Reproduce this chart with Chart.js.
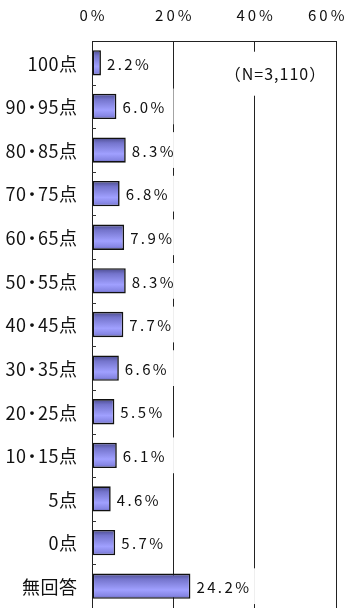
<!DOCTYPE html>
<html lang="ja">
<head>
<meta charset="utf-8">
<script src="https://cdn.jsdelivr.net/npm/chart.js@4.4.1/dist/chart.umd.min.js"></script>
<style>
  html, body { margin: 0; padding: 0; background: #fff; }
  #chart { display: block; }
</style>
</head>
<body>
<canvas id="chart" width="354" height="608"></canvas>
<script>
"use strict";

const CATEGORIES = [
  "100点", "90・95点", "80・85点", "70・75点", "60・65点", "50・55点", "40・45点",
  "30・35点", "20・25点", "10・15点", "5点", "0点", "無回答",
];
const VALUES = [2.2, 6.0, 8.3, 6.8, 7.9, 8.3, 7.7, 6.6, 5.5, 6.1, 4.6, 5.7, 24.2];
const X_TICKS = [0, 20, 40, 60];
const NOTE = "（N=3,110）";

const FONT = '"Noto Sans CJK JP", "Noto Sans", sans-serif';
const INK = "#111";
const BAR_PCT = 0.58;

// 棒の縦グラデーション（上端が暗く、下寄りが明るい）
function barFill(c) {
  const chart = c.chart;
  const y = chart.scales && chart.scales.y;
  if (!chart.chartArea || !y) return "#9999ff";
  const cy = y.getPixelForValue(c.dataIndex);
  const half = (y.getPixelForValue(1) - y.getPixelForValue(0)) * BAR_PCT / 2;
  const g = chart.ctx.createLinearGradient(0, cy - half, 0, cy + half);
  g.addColorStop(0, "#4a4a8c");
  g.addColorStop(0.22, "#7474cc");
  g.addColorStop(0.65, "#a0a0ff");
  g.addColorStop(0.88, "#8686e4");
  g.addColorStop(1, "#6060b0");
  return g;
}

function textWidth(ctx, text, ls) {
  ctx.letterSpacing = ls + "px";
  const w = ctx.measureText(text).width;
  ctx.letterSpacing = "0px";
  return w;
}

function spacedText(ctx, text, x, y, align, ls) {
  ctx.letterSpacing = ls + "px";
  ctx.textAlign = align;
  // letterSpacing は末尾にも付くので右寄せ・中央寄せで補正
  const dx = align === "right" ? ls : align === "center" ? ls / 2 : 0;
  ctx.fillText(text, x + dx, y);
  ctx.letterSpacing = "0px";
}

// 項目ラベル：中黒だけ詰めて右寄せで一文字ずつ描く
function categoryText(ctx, text, right, y, ls) {
  const chars = [...text];
  const adv = chars.map((ch) => ctx.measureText(ch).width - (ch === "・" ? 7 : 0) + ls);
  const total = adv.reduce((a, b) => a + b, 0) - ls;
  let px = right - total;
  ctx.textAlign = "left";
  chars.forEach((ch, i) => {
    ctx.fillText(ch, ch === "・" ? px - 3.5 : px, y);
    px += adv[i];
  });
}

const textPlugin = {
  id: "texts",
  afterDraw(chart) {
    const { ctx, chartArea, scales: { x, y } } = chart;
    const step = y.getPixelForValue(1) - y.getPixelForValue(0);
    ctx.save();
    ctx.fillStyle = INK;
    ctx.textBaseline = "middle";

    // 上部の目盛ラベル
    ctx.font = "15px " + FONT;
    X_TICKS.forEach((v) => {
      const label = v + "%";
      const w = textWidth(ctx, label, 3);
      let cx = x.getPixelForValue(v);
      if (cx + w / 2 > chart.width - 8) cx = chart.width - 8 - w / 2;
      spacedText(ctx, label, cx, 15, "center", 3);
    });

    // 項目ラベル
    ctx.font = "18px " + FONT;
    CATEGORIES.forEach((cat, i) => {
      categoryText(ctx, cat, chartArea.left - 15, y.getPixelForValue(i) + 1, 0.5);
    });

    // 軸の内側の区切り目盛
    ctx.strokeStyle = "#333";
    ctx.lineWidth = 1;
    for (let k = 1; k < CATEGORIES.length; k++) {
      const py = Math.round(y.getPixelForValue(k - 0.5)) + 0.5;
      ctx.beginPath();
      ctx.moveTo(chartArea.left, py);
      ctx.lineTo(chartArea.left + 4, py);
      ctx.stroke();
    }

    // 値ラベル（白地の枠つき）
    ctx.font = "15px " + FONT;
    const meta = chart.getDatasetMeta(0);
    meta.data.forEach((bar, i) => {
      const label = VALUES[i].toFixed(1) + "%";
      const w = textWidth(ctx, label, 2.4);
      ctx.fillStyle = "rgba(255,255,255,0.93)";
      ctx.fillRect(bar.x + 2, bar.y - step * 0.41, w + 11, step * 0.82);
      ctx.fillStyle = INK;
      spacedText(ctx, label, bar.x + 6, bar.y + 1, "left", 2.4);
    });

    // 回答者数
    ctx.font = "16px " + FONT;
    const nw = textWidth(ctx, NOTE, 1);
    const nx = x.getPixelForValue(45);
    const ny = y.getPixelForValue(0.25);
    ctx.fillStyle = "#fff";
    ctx.fillRect(nx - nw / 2 - 4, ny - 22, nw + 8, 44);
    ctx.fillStyle = INK;
    spacedText(ctx, NOTE, nx, ny, "center", 1);

    ctx.restore();
  },
};

new Chart(document.getElementById("chart"), {
  type: "bar",
  data: {
    labels: CATEGORIES,
    datasets: [{
      data: VALUES,
      backgroundColor: barFill,
      borderColor: "#111",
      borderWidth: 1.6,
      borderSkipped: false,
      barPercentage: BAR_PCT,
      categoryPercentage: 1,
    }],
  },
  options: {
    indexAxis: "y",
    responsive: false,
    animation: false,
    devicePixelRatio: 1,
    layout: { padding: { left: 0, right: 18, top: 0, bottom: 0 } },
    plugins: { legend: { display: false }, tooltip: { enabled: false } },
    scales: {
      x: {
        type: "linear",
        position: "top",
        min: 0, max: 60,
        ticks: { stepSize: 20, display: false },
        grid: { color: "#222", lineWidth: 1, drawTicks: false },
        border: { display: true, color: "#222", width: 1 },
        afterFit: (s) => { s.height = 41; },
      },
      y: {
        type: "category",
        ticks: { display: false },
        grid: { display: false },
        border: { display: true, color: "#222", width: 1 },
        afterFit: (s) => { s.width = 92; },
      },
    },
  },
  plugins: [textPlugin],
});
</script>
</body>
</html>
